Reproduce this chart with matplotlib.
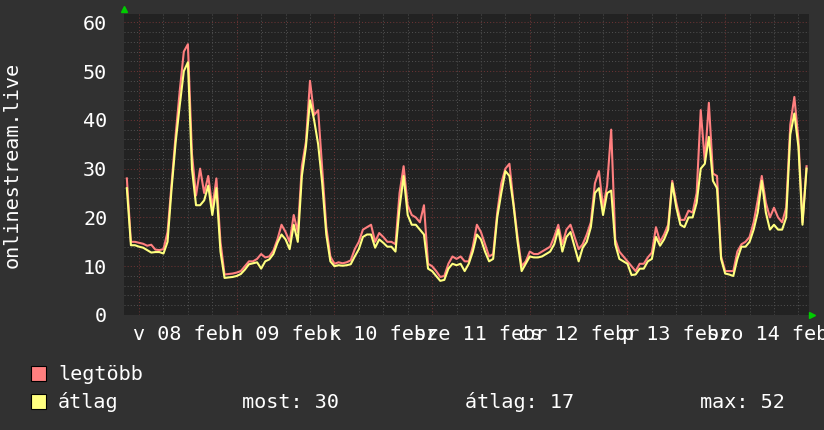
import matplotlib
matplotlib.use("Agg")
import matplotlib.pyplot as plt
import numpy as np
from matplotlib.patches import Rectangle

# hours relative to Sun 08 Feb 00:00, hourly samples
hours = np.arange(-3, 165)

# "legtöbb" (max) series
max_vals = [
    28, 15, 15, 14.8, 14.6, 14.2, 14.4, 13.4, 13.3, 13.5, 17, 27, 37, 46,
    54, 55.5, 33, 24.5, 30, 25, 28.5, 22, 28, 15, 8.3, 8.4, 8.5, 8.7,
    9.0, 10.0, 11.0, 11.0, 11.5, 12.5, 11.8, 12.0, 13.2, 15.5, 18.5, 17.0, 15.0, 20.5,
    17.0, 30.5, 35.5, 48.0, 41.0, 42.0, 30.0, 18.0, 12.0, 10.5, 10.8, 10.6, 10.8, 11.2,
    13.5, 15.0, 17.5, 18.0, 18.5, 15.0, 16.8, 16.0, 15.0, 15.0, 14.5, 25.0, 30.5, 22.5,
    20.5, 20.0, 19.0, 22.5, 10.5, 10.0, 9.0, 7.8, 8.0, 10.5, 12.0, 11.5, 12.0, 11.0,
    11.0, 14.0, 18.5, 17.0, 14.5, 12.0, 12.5, 21.0, 27.0, 30.0, 31.0, 23.0, 16.0, 10.0,
    11.0, 13.0, 12.5, 12.5, 13.0, 13.5, 14.0, 16.0, 18.5, 14.5, 17.5, 18.5, 16.0, 13.5,
    14.5, 16.5, 19.0, 27.0, 29.5, 22.0, 26.5, 38.0, 15.5, 13.0, 12.0, 11.0, 10.0, 9.0,
    10.5, 10.5, 11.8, 12.8, 18.0, 15.0, 16.5, 18.5, 27.5, 23.0, 19.5, 19.5, 21.4, 21.0,
    25.0, 42.0, 31.5, 43.5, 29.0, 28.5, 12.0, 9.0, 9.0, 9.0, 13.0, 14.5, 15.0, 16.0,
    19.0, 23.5, 28.5, 23.0, 20.0, 22.0, 20.0, 19.0, 22.0, 39.0, 44.7, 36.0, 19.0, 30.5,
]

# "átlag" (average) series
avg_vals = [
    26, 14.3, 14.3, 14.0, 13.8, 13.3, 12.8, 12.9, 12.9, 12.6, 15, 26, 35.5, 43,
    50, 51.8, 30, 22.5, 22.5, 23.5, 26.5, 20.5, 26, 13, 7.6, 7.7, 7.8, 8.0,
    8.4, 9.3, 10.4, 10.6, 10.8, 9.5, 11.0, 11.4, 12.5, 14.8, 16.5, 15.5, 13.5, 18.5,
    15.0, 28.5, 34.5, 44.0, 40.0, 35.0, 27.0, 16.5, 11.0, 10.0, 10.2, 10.1, 10.2, 10.4,
    12.0, 13.5, 16.0, 16.5, 16.5, 13.8, 15.5, 14.8, 14.0, 14.0, 13.0, 22.0, 28.5, 20.5,
    18.5, 18.5, 17.5, 16.5, 9.5, 9.0, 8.0, 7.0, 7.2, 9.5, 10.5, 10.2, 10.5, 9.0,
    10.5, 13.0, 16.5, 15.5, 13.0, 11.0, 11.5, 20.0, 25.0, 29.5, 28.5, 22.5, 15.0, 9.0,
    10.5, 12.0, 11.8, 11.8, 12.0, 12.5, 13.0, 14.5, 17.5, 13.0, 16.0, 17.0, 14.0, 11.0,
    13.8, 15.0, 18.0, 25.0, 26.0, 20.5, 25.0, 25.5, 14.5, 11.5, 11.0, 10.5, 8.2, 8.3,
    9.5, 9.5, 11.0, 11.5, 16.0, 14.2, 15.5, 17.5, 27.0, 22.0, 18.5, 18.0, 20.0, 20.0,
    23.0, 30.0, 31.0, 36.5, 27.5, 26.0, 11.5, 8.5, 8.3, 8.0, 11.5, 14.0, 14.0, 15.0,
    17.5, 21.0, 27.5, 21.0, 17.5, 18.5, 17.5, 17.5, 20.0, 37.0, 41.3, 34.5, 18.5, 30.0,
]

day_labels = ["v 08 febr", "h 09 febr", "k 10 febr", "sze 11 febr",
              "cs 12 febr", "p 13 febr", "szo 14 febr"]
y_ticks = [0, 10, 20, 30, 40, 50, 60]
series_names = ["legtöbb", "átlag"]
stats = ["most: 30", "átlag: 17", "max: 52"]

MAX_COLOR = "#ff7f7f"
AVG_COLOR = "#ffff7f"
FS = 14.5

plt.rcParams['font.family'] = ['DejaVu Sans Mono']

W, H = 824, 430
fig = plt.figure(figsize=(W / 100, H / 100), dpi=100, facecolor="#313131")
ax = fig.add_axes([124 / W, 1 - 315 / H, 685 / W, 301 / H])
ax.set_facecolor("#222222")

x_lo, x_hi = -3.7, 164.6
y_hi = 61.7
ax.set_xlim(x_lo, x_hi)
ax.set_ylim(0, y_hi)

# grid: minor every 6h / 2 units, major every day / 10 units
dots = (0, (1, 2))
for h in np.arange(-6, 170, 6):
    if x_lo < h < x_hi and h % 24 != 0:
        ax.axvline(h, color="#4e4e4e", lw=0.75, ls=dots, zorder=1)
for v in np.arange(2, 62, 2):
    if v % 10 != 0:
        ax.axhline(v, color="#4e4e4e", lw=0.75, ls=dots, zorder=1)
for h in np.arange(0, 170, 24):
    if h < x_hi:
        ax.axvline(h, color="#6a3434", lw=0.75, ls=dots, zorder=1.5)
for v in y_ticks[1:]:
    ax.axhline(v, color="#6a3434", lw=0.75, ls=dots, zorder=1.5)

ax.plot(hours, max_vals, color=MAX_COLOR, lw=1.5, zorder=3)
ax.plot(hours, avg_vals, color=AVG_COLOR, lw=1.5, zorder=4)

for s in ax.spines.values():
    s.set_visible(False)

ax.set_yticks(y_ticks)
ax.set_yticklabels([str(v) for v in y_ticks])
ax.set_xticks([12 + 24 * i for i in range(len(day_labels))])
ax.set_xticklabels(day_labels)
ax.tick_params(axis="y", length=0, pad=12, labelsize=FS, labelcolor="white")
ax.tick_params(axis="x", length=0, pad=7, labelsize=FS, labelcolor="white")
for lbl in ax.get_xticklabels():
    lbl.set_clip_on(False)

# little green arrows at axis ends
ax.plot([0], [1 + 5 / 301], marker="^", color="#00cc00", ms=4.5,
        transform=ax.transAxes, clip_on=False)
ax.plot([1 + 3 / 685], [0], marker=">", color="#00cc00", ms=4.5,
        transform=ax.transAxes, clip_on=False)

fig.text(12 / W, 1 - 165 / H, "onlinestream.live", rotation=90,
         ha="center", va="center", color="white", fontsize=FS)

# legend
for i, (name, col) in enumerate(zip(series_names, [MAX_COLOR, AVG_COLOR])):
    y0 = 366 + i * 27.5
    fig.add_artist(Rectangle((31.5 / W, 1 - (y0 + 15) / H), 15 / W, 15 / H,
                             transform=fig.transFigure, facecolor=col,
                             edgecolor="black", lw=0.8))
    fig.text(58 / W, 1 - (380.5 + i * 27.5) / H, name, ha="left",
             va="baseline", color="white", fontsize=FS)

for txt, x in zip(stats, [242, 465, 700]):
    fig.text(x / W, 1 - 408 / H, txt, ha="left", va="baseline",
             color="white", fontsize=FS)

fig.savefig("out.png", dpi=100, facecolor=fig.get_facecolor())
